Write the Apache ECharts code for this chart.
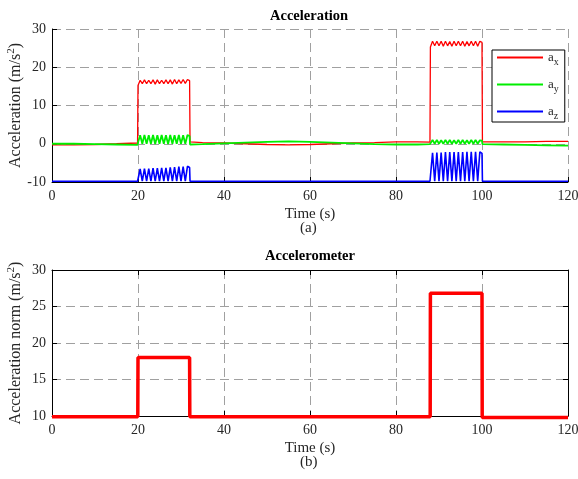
<!DOCTYPE html>
<html>
<head>
<meta charset="utf-8">
<script src="https://cdn.jsdelivr.net/npm/echarts@6/dist/echarts.min.js"></script>
<style>html,body{margin:0;padding:0;background:#fff;}#c{width:578px;height:479px;}</style>
</head>
<body>
<div id="c"></div>
<script>
// ---- Data ----
var timeTop = [
  0, 5, 10, 15, 19.9,
  20, 20.5, 21, 21.5, 22, 22.5, 23, 23.5, 24, 24.5, 25, 25.5, 26, 26.5, 27, 27.5, 28, 28.5, 29, 29.5, 30, 30.5, 31, 31.5, 32,
  32.1, 35, 40, 45, 50, 55, 60, 65, 70, 75, 80, 85, 87.9,
  88, 88.5, 89, 89.5, 90, 90.5, 91, 91.5, 92, 92.5, 93, 93.5, 94, 94.5, 95, 95.5, 96, 96.5, 97, 97.5, 98, 98.5, 99, 99.5, 100,
  100.1, 105, 110, 115, 120
];
var ax = [
  -0.3, -0.3, -0.2, 0.0, 0.2,
  15.2, 16.6, 15.7, 16.7, 15.7, 16.6, 15.7, 16.7, 15.6, 16.7, 15.7, 16.6, 15.7, 16.7, 15.7, 16.7, 15.6, 16.8, 15.7, 16.7, 15.8, 16.8, 15.8, 16.8, 16.5,
  0.5, 0.3, 0.2, 0.0, -0.2, -0.3, -0.2, 0.0, 0.2, 0.3, 0.5, 0.5, 0.4,
  25.3, 26.8, 25.6, 26.8, 25.6, 26.8, 25.5, 26.8, 25.6, 26.7, 25.5, 26.8, 25.6, 26.8, 25.6, 26.8, 25.5, 26.7, 25.6, 26.8, 25.6, 26.8, 25.5, 26.8, 26.5,
  0.5, 0.5, 0.5, 0.6, 0.6
];
var ay = [
  0.0, 0.0, -0.1, -0.2, -0.3,
  0.3, 2.2, 0.0, 2.3, 0.0, 2.2, 0.0, 2.3, -0.1, 2.2, 0.0, 2.3, 0.0, 2.2, -0.1, 2.3, 0.0, 2.2, 0.0, 2.3, 0.0, 2.2, 0.0, 2.3, 2.0,
  -0.2, -0.1, 0.1, 0.3, 0.5, 0.6, 0.5, 0.3, 0.1, -0.1, -0.2, -0.2, -0.1,
  0.0, 1.0, 0.0, 1.0, 0.0, 0.9, 0.0, 1.0, 0.0, 1.0, 0.0, 0.9, 0.0, 1.0, 0.0, 1.0, 0.0, 0.9, 0.0, 1.0, 0.0, 1.0, 0.0, 0.9, 0.8,
  -0.1, -0.2, -0.3, -0.4, -0.5
];
var az = [
  -9.8, -9.8, -9.8, -9.8, -9.8,
  -9.6, -6.6, -9.8, -6.5, -9.8, -6.5, -9.8, -6.4, -9.8, -6.4, -9.8, -6.3, -9.8, -6.3, -9.8, -6.2, -9.8, -6.1, -9.8, -6.0, -9.8, -6.0, -9.8, -5.9, -6.2,
  -9.8, -9.8, -9.8, -9.8, -9.8, -9.8, -9.8, -9.8, -9.8, -9.8, -9.8, -9.8, -9.8,
  -9.6, -2.4, -9.8, -2.3, -9.8, -2.3, -9.8, -2.2, -9.8, -2.2, -9.8, -2.2, -9.8, -2.2, -9.8, -2.2, -9.8, -2.1, -9.8, -2.1, -9.8, -2.1, -9.8, -2.1, -2.5,
  -9.8, -9.8, -9.8, -9.8, -9.8
];
var timeNorm = [0, 19.95, 20, 32, 32.05, 87.95, 88, 100, 100.05, 120];
var accNorm  = [9.9, 9.9, 18.0, 18.0, 9.9, 9.9, 26.8, 26.8, 9.8, 9.8];

var xTicks = [0, 20, 40, 60, 80, 100, 120];
var yTicksTop = [-10, 0, 10, 20, 30];
var yTicksBottom = [10, 15, 20, 25, 30];
var seriesNames = ['a_x', 'a_y', 'a_z'];

function pairs(t, v) { return t.map(function (x, i) { return [x, v[i]]; }); }

var FONT = '"Liberation Serif", "Times New Roman", serif';
var TXT = '#262626';
var gridLine = { show: true, lineStyle: { color: '#a0a0a0', type: [9, 5], width: 1 } };
var tickCfg = { show: true, inside: true, length: 5, lineStyle: { color: '#000' } };
var lineCfg = { show: true, onZero: false, lineStyle: { color: '#000', width: 1 } };

function xAxisCfg(idx) {
  return {
    type: 'value', gridIndex: idx, min: xTicks[0], max: xTicks[xTicks.length - 1], interval: 20,
    name: 'Time (s)', nameLocation: 'middle', nameGap: 25, nameMoveOverlap: false,
    nameTextStyle: { fontFamily: FONT, fontSize: 15, color: TXT },
    axisLine: lineCfg,
    axisTick: tickCfg,
    axisLabel: { fontFamily: FONT, fontSize: 14, color: TXT, margin: 7 },
    splitLine: gridLine,
    z: 3
  };
}
function yAxisCfg(idx, ticks, name) {
  return {
    type: 'value', gridIndex: idx, min: ticks[0], max: ticks[ticks.length - 1], interval: ticks[1] - ticks[0],
    name: name, nameLocation: 'middle', nameGap: 26, nameMoveOverlap: false,
    nameTextStyle: { fontFamily: FONT, fontSize: 16, color: TXT, rich: { sup: { fontFamily: FONT, fontSize: 11, color: TXT, padding: [0, 0, 9, 0] } } },
    axisLine: lineCfg,
    axisTick: tickCfg,
    axisLabel: { fontFamily: FONT, fontSize: 14, color: TXT, margin: 6 },
    splitLine: gridLine,
    z: 3
  };
}

var chart = echarts.init(document.getElementById('c'), null, { renderer: 'canvas' });
chart.setOption({
  animation: false,
  backgroundColor: '#fff',
  grid: [
    { left: 52, right: 10, top: 29, height: 153, outerBoundsMode: 'none', containLabel: false },
    { left: 52, right: 10, top: 270, height: 146, outerBoundsMode: 'none', containLabel: false }
  ],
  xAxis: [
    xAxisCfg(0),
    xAxisCfg(1),
    { type: 'value', gridIndex: 1, position: 'top', min: xTicks[0], max: xTicks[xTicks.length - 1], interval: 20,
      axisLine: lineCfg, axisTick: tickCfg, axisLabel: { show: false }, splitLine: { show: false }, z: 3 }
  ],
  yAxis: [
    yAxisCfg(0, yTicksTop, 'Acceleration (m/s{sup|2})'),
    yAxisCfg(1, yTicksBottom, 'Acceleration norm (m/s{sup|2})'),
    { type: 'value', gridIndex: 1, position: 'right', min: yTicksBottom[0], max: yTicksBottom[yTicksBottom.length - 1], interval: 5,
      axisLine: lineCfg, axisTick: tickCfg, axisLabel: { show: false }, splitLine: { show: false }, z: 3 }
  ],
  legend: {
    data: seriesNames,
    orient: 'vertical',
    left: 492, top: 50,
    width: 74,
    backgroundColor: '#fff',
    borderColor: '#000', borderWidth: 1, borderRadius: 0,
    padding: [1, 6, 1, 5],
    itemGap: 11,
    itemWidth: 46, itemHeight: 2,
    icon: 'rect',
    formatter: function (n) { return '{m|a}{s|' + n.split('_')[1] + '}'; },
    textStyle: {
      fontFamily: FONT, color: TXT,
      rich: {
        m: { fontFamily: FONT, fontSize: 13, color: TXT },
        s: { fontFamily: FONT, fontSize: 10, color: TXT, padding: [9, 0, 0, 0] }
      }
    }
  },
  graphic: [
    { type: 'text', left: 310 - 40, top: 9, style: { text: 'Acceleration', font: 'bold 14.5px ' + FONT, fill: '#000' } },
    { type: 'text', left: 300, top: 221, style: { text: '(a)', font: '15px ' + FONT, fill: TXT } },
    { type: 'text', left: 310 - 45, top: 249, style: { text: 'Accelerometer', font: 'bold 14.5px ' + FONT, fill: '#000' } },
    { type: 'text', left: 300, top: 455, style: { text: '(b)', font: '15px ' + FONT, fill: TXT } }
  ],
  series: [
    { name: 'a_x', type: 'line', xAxisIndex: 0, yAxisIndex: 0, data: pairs(timeTop, ax), showSymbol: false, symbol: 'none', color: '#ff0000', lineStyle: { width: 1.3, color: '#ff0000' } },
    { name: 'a_y', type: 'line', xAxisIndex: 0, yAxisIndex: 0, data: pairs(timeTop, ay), showSymbol: false, symbol: 'none', color: '#00ee00', lineStyle: { width: 1.8, color: '#00ee00' } },
    { name: 'a_z', type: 'line', xAxisIndex: 0, yAxisIndex: 0, data: pairs(timeTop, az), showSymbol: false, symbol: 'none', color: '#0000ff', lineStyle: { width: 1.6, color: '#0000ff' } },
    { name: 'norm', type: 'line', xAxisIndex: 1, yAxisIndex: 1, data: pairs(timeNorm, accNorm), showSymbol: false, symbol: 'none', clip: false, color: '#ff0000', lineStyle: { width: 3.5, color: '#ff0000' } }
  ]
});
</script>
</body>
</html>
